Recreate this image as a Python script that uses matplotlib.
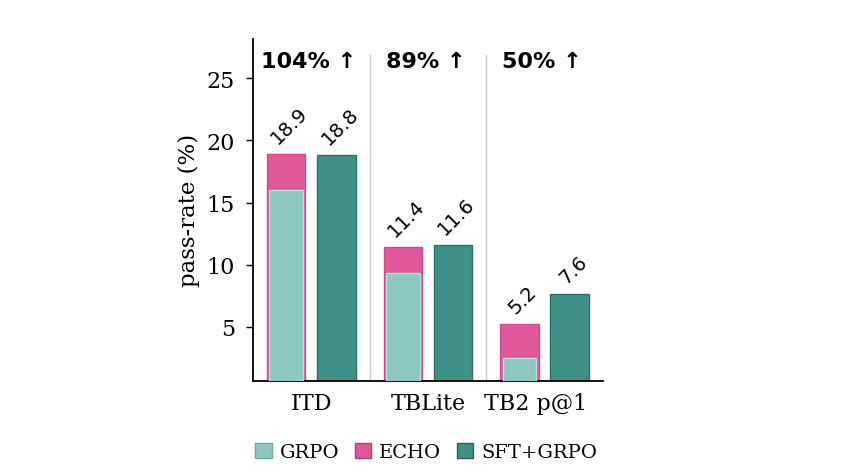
import numpy as np
import matplotlib
matplotlib.use("Agg")
import matplotlib.pyplot as plt
from matplotlib.patches import Patch

benchmarks = ["ITD", "TBLite", "TB2 p@1"]
grpo = [16.0, 9.3, 2.5]
echo = [18.9, 11.4, 5.2]
sft_grpo = [18.8, 11.6, 7.6]
gains = ["104% ↑", "89% ↑", "50% ↑"]

c_grpo = "#8cc8bf"
c_echo = "#e0579b"
c_sft = "#3e9187"

fig = plt.figure(figsize=(8.49, 4.77), dpi=100)
ax = fig.add_axes([0.298, 0.199, 0.412, 0.718])

x = np.arange(len(benchmarks))
w = 0.33
off = 0.215

# ECHO drawn full height, GRPO on top of it (slightly narrower)
ax.bar(x - off, echo, w, color=c_echo, edgecolor="#d24a8e", linewidth=1, zorder=2)
ax.bar(x - off, grpo, w - 0.04, color=c_grpo, edgecolor="#b7dfd9", linewidth=1, zorder=3)
ax.bar(x + off, sft_grpo, w, color=c_sft, edgecolor="#2f6d65", linewidth=1, zorder=2)

for i in range(len(x)):
    ax.text(x[i] - off + 0.03, echo[i] + 0.6, f"{echo[i]:.1f}", rotation=45,
            ha="center", va="bottom", fontsize=14, family="DejaVu Sans")
    ax.text(x[i] + off + 0.03, sft_grpo[i] + 0.6, f"{sft_grpo[i]:.1f}", rotation=45,
            ha="center", va="bottom", fontsize=14, family="DejaVu Sans")
    ax.text(x[i] - 0.02, 26.4, gains[i], ha="center", va="center",
            fontsize=16, fontweight="bold", family="DejaVu Sans")

# group separators
for s in [0.5, 1.5]:
    ax.plot([s, s], [0.6, 26.9], color="#cccccc", linewidth=1, zorder=1)

ax.set_xlim(-0.5, 2.5)
ax.set_ylim(0.63, 28.2)
ax.set_yticks([5, 10, 15, 20, 25])
ax.set_xticks(x + np.array([0.0, 0.0, -0.08]))
ax.set_xticklabels(benchmarks, family="DejaVu Serif", fontsize=16)
for lab in ax.get_yticklabels():
    lab.set_family("DejaVu Serif")
    lab.set_fontsize(16)
ax.tick_params(axis="x", length=0, pad=8)
ax.tick_params(axis="y", length=5, width=1, pad=8)
ax.set_ylabel("pass-rate (%)", family="DejaVu Serif", fontsize=16.5, labelpad=5)
ax.spines["top"].set_visible(False)
ax.spines["right"].set_visible(False)
ax.spines["left"].set_linewidth(1.3)
ax.spines["bottom"].set_linewidth(1.3)

handles = [
    Patch(facecolor=c_grpo, edgecolor="#6aa9a0", label="GRPO"),
    Patch(facecolor=c_echo, edgecolor="#b33f7a", label="ECHO"),
    Patch(facecolor=c_sft, edgecolor="#2a5f58", label="SFT+GRPO"),
]
fig.legend(handles=handles, loc="center", bbox_to_anchor=(0.502, 0.05), ncol=3,
           frameon=False, prop={"family": "DejaVu Serif", "size": 14},
           handlelength=0.85, handleheight=0.85, handletextpad=0.4, columnspacing=0.8)

fig.savefig("out.png", dpi=100)
